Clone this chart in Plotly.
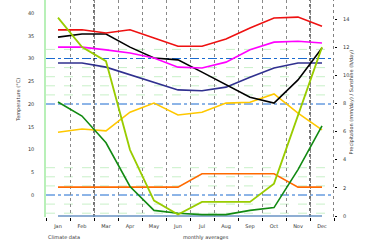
import plotly.graph_objects as go

months = ["Jan", "Feb", "Mar", "Apr", "May", "Jun", "Jul", "Aug", "Sep", "Oct", "Nov", "Dec"]
x_idx = list(range(1, 13))

# left axis series
t_max_abs = [36.3, 36.3, 35.6, 36.3, 34.5, 32.7, 32.7, 34.3, 36.7, 38.9, 39.1, 37.1]
t_max = [32.5, 32.5, 31.9, 31.2, 30.1, 28.1, 27.9, 29.2, 31.9, 33.6, 33.8, 33.4]
t_min = [29.0, 29.0, 28.1, 26.4, 24.8, 23.1, 22.9, 23.7, 25.9, 27.9, 29.0, 29.0]
t_black = [34.7, 35.4, 35.4, 32.5, 30.1, 29.7, 27.0, 24.2, 21.5, 20.2, 25.3, 32.3]
t_yellow = [13.8, 14.5, 14.1, 18.2, 20.2, 17.6, 18.2, 20.2, 20.4, 22.2, 18.0, 14.3]

# right axis series
p_lightgreen = [14.1, 12.0, 11.0, 4.7, 1.1, 0.1, 1.0, 1.0, 1.0, 2.3, 7.1, 12.0]
p_darkgreen = [8.1, 7.1, 5.2, 2.1, 0.4, 0.2, 0.1, 0.1, 0.4, 0.6, 3.3, 6.4]
p_orange = [2.05, 2.05, 2.05, 2.05, 2.05, 2.05, 3.0, 3.0, 3.0, 3.0, 2.05, 2.05]
p_steel = [0, 0, 0, 0, 0, 0, 0, 0, 0, 0, 0, 0]

left_ticks = [0, 5, 10, 15, 20, 25, 30, 35, 40]
right_ticks = [0, 2, 4, 6, 8, 10, 12, 14]
blue_lines = [30, 20, 0]
green_lines = [32, 28, 26, 24, 22, 6, 4, 2, -2, -4]
heavy_vlines = [2.5, 11.5]

fig = go.Figure()

def add(y, color, axis="y", w=1.6):
    fig.add_trace(go.Scatter(x=x_idx, y=y, mode="lines", yaxis=axis,
                             line=dict(color=color, width=w), showlegend=False,
                             hoverinfo="skip"))

add(p_steel, "#6a93c4", "y2", 1.5)
add(p_orange, "#ff6a00", "y2")
add(p_darkgreen, "#128a12", "y2")
add(t_yellow, "#ffc800")
add(t_min, "#30308f")
add(t_black, "#000000")
add(t_max, "#ff00ff")
add(t_max_abs, "#ee1111")
add(p_lightgreen, "#99cc00", "y2", 1.8)

shapes = []
for v in blue_lines:
    shapes.append(dict(type="line", xref="paper", x0=0, x1=1, yref="y", y0=v, y1=v,
                       line=dict(color="#1a6ad0", width=1, dash="dashdot"), layer="below"))
for v in green_lines:
    shapes.append(dict(type="line", xref="paper", x0=0, x1=1, yref="y", y0=v, y1=v,
                       line=dict(color="#c8f0c8", width=1, dash="dash"), layer="below"))
for xv in heavy_vlines:
    shapes.append(dict(type="line", xref="x", x0=xv, x1=xv, yref="paper", y0=0, y1=1,
                       line=dict(color="#000000", width=1.1, dash="dot"), layer="below"))
shapes.append(dict(type="line", xref="x", x0=12.5, x1=12.5, yref="paper", y0=0, y1=1,
                   line=dict(color="#000000", width=1, dash="dot"), layer="below"))

tf = dict(size=5, color="#333")

fig.update_layout(
    width=372, height=240,
    margin=dict(l=46, r=38, t=0, b=23),
    paper_bgcolor="white", plot_bgcolor="white",
    font=dict(family="DejaVu Sans", size=5, color="#333"),
    shapes=shapes,
    xaxis=dict(range=[0.5, 12.5], tickmode="array", tickvals=x_idx, ticktext=months,
               showgrid=False, zeroline=False, ticks="", showline=False,
               tickfont=tf, ticklabelstandoff=5,
               minor=dict(tickmode="array", tickvals=[i + 0.5 for i in range(0, 13)],
                          ticks="outside", ticklen=3, tickcolor="#000",
                          showgrid=True, gridcolor="#8a8a8a", gridwidth=1, griddash="dot")),
    yaxis=dict(range=[-4.835, 42.857], tickmode="array", tickvals=left_ticks,
               showgrid=False, zeroline=False, showline=True, linecolor="#b8f0b8",
               linewidth=1.5, ticks="", ticklabelstandoff=9, tickfont=tf),
    yaxis2=dict(range=[-0.071, 15.35], overlaying="y", side="right", tickmode="array",
                tickvals=right_ticks, showgrid=False, zeroline=False, showline=False,
                ticks="outside", ticklen=2, tickcolor="#000", ticklabelstandoff=5,
                tickfont=tf),
    annotations=[
        dict(text="Temperature (°C)", xref="paper", yref="paper", x=-0.112, y=0.54,
             textangle=-90, showarrow=False, font=tf),
        dict(text="Precipitation (mm/day) / Sunshine (h/day)", xref="paper", yref="paper",
             x=1.08, y=0.53, textangle=-90, showarrow=False, font=tf),
        dict(text="Climate data", xref="paper", yref="paper", x=0.0, y=-0.07,
             xanchor="left", yanchor="top", showarrow=False, font=tf),
        dict(text="monthly averages", xref="paper", yref="paper", x=0.47, y=-0.07,
             xanchor="left", yanchor="top", showarrow=False, font=tf),
    ],
)

fig.write_html("out.html")
